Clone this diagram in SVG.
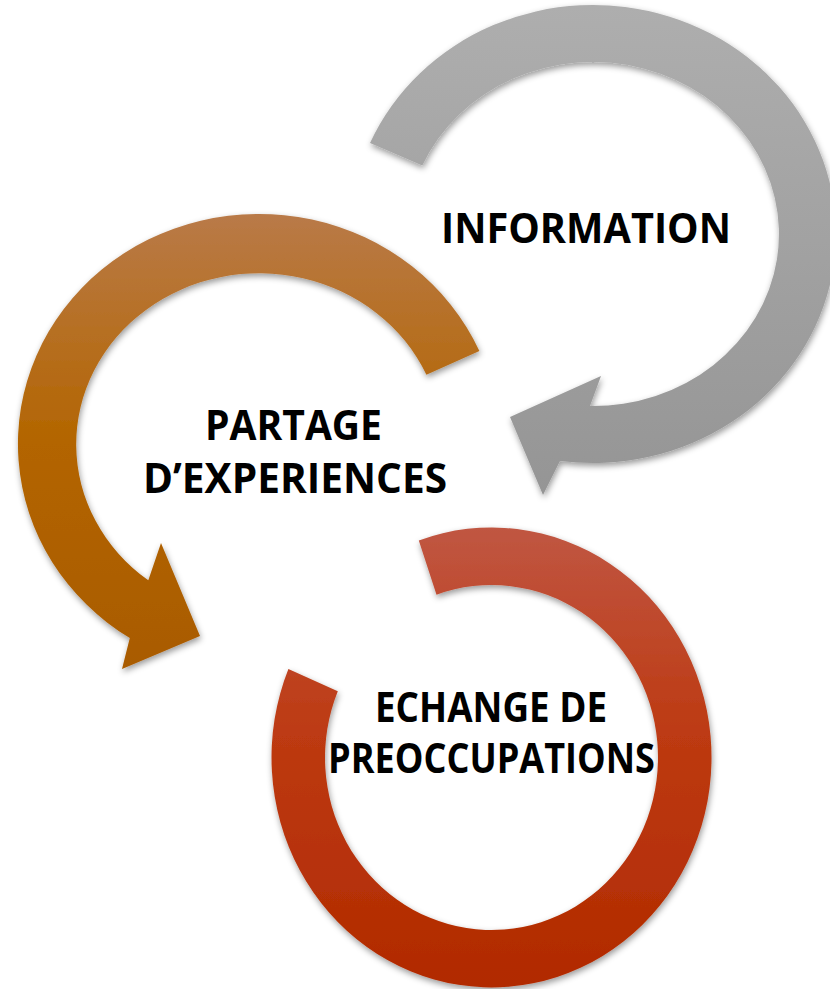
<svg xmlns="http://www.w3.org/2000/svg" width="830" height="989" viewBox="0 0 830 989">
<style>
.lbl{font-family:"Open Sans","Liberation Sans",sans-serif;font-weight:bold;font-size:41px;fill:#000}
.arr{filter:url(#sh)}
</style>
<defs>
<filter id="sh" x="-10%" y="-10%" width="120%" height="120%">
<feDropShadow dx="1" dy="3" stdDeviation="3" flood-color="#000" flood-opacity="0.4"/>
</filter>
<linearGradient id="gGray" x1="0" y1="0" x2="0" y2="1">
<stop offset="0" stop-color="#aeaeae"/>
<stop offset="1" stop-color="#959595"/>
</linearGradient>
<linearGradient id="gOrange" x1="0" y1="0" x2="0" y2="1">
<stop offset="0" stop-color="#b97a48"/>
<stop offset="0.5" stop-color="#b36500"/>
<stop offset="1" stop-color="#a95b00"/>
</linearGradient>
<linearGradient id="gRed" x1="0" y1="0" x2="0" y2="1">
<stop offset="0" stop-color="#c05642"/>
<stop offset="0.45" stop-color="#bd3a12"/>
<stop offset="1" stop-color="#b12a00"/>
</linearGradient>
</defs>
<g id="connectors"></g>
<g id="node-information">
<path class="arr" fill="url(#gGray)" d="M 370,143 A 243 229 0 1 1 560,460.9 L 543,495 L 510,417 L 601,376 L 590,406 A 186 172 0 1 0 422.3,165.6 Z"/>
<text class="lbl" x="441" y="243" textLength="290" lengthAdjust="spacingAndGlyphs">INFORMATION</text>
</g>
<g id="node-partage">
<path class="arr" fill="url(#gOrange)" d="M 479.4,351.0 A 241 230 0 1 0 129.8,638.1 L 122,669 L 200,636 L 161,543 L 148.3,580.3 A 183 171 0 1 1 426.4,374.8 Z"/>
<text class="lbl" x="205" y="440" textLength="177" lengthAdjust="spacingAndGlyphs">PARTAGE</text>
<text class="lbl" x="143" y="493" textLength="304" lengthAdjust="spacingAndGlyphs">D’EXPERIENCES</text>
</g>
<g id="node-echange">
<path class="arr" fill="url(#gRed)" d="M 418.8,540.4 A 220 230 0 1 1 288.4,669.1 L 337.8,691.2 A 166.5 172.5 0 1 0 436.5,594.7 Z"/>
<text class="lbl" x="375" y="722" textLength="232" lengthAdjust="spacingAndGlyphs">ECHANGE DE</text>
<text class="lbl" x="328" y="773" textLength="327" lengthAdjust="spacingAndGlyphs">PREOCCUPATIONS</text>
</g>
</svg>
